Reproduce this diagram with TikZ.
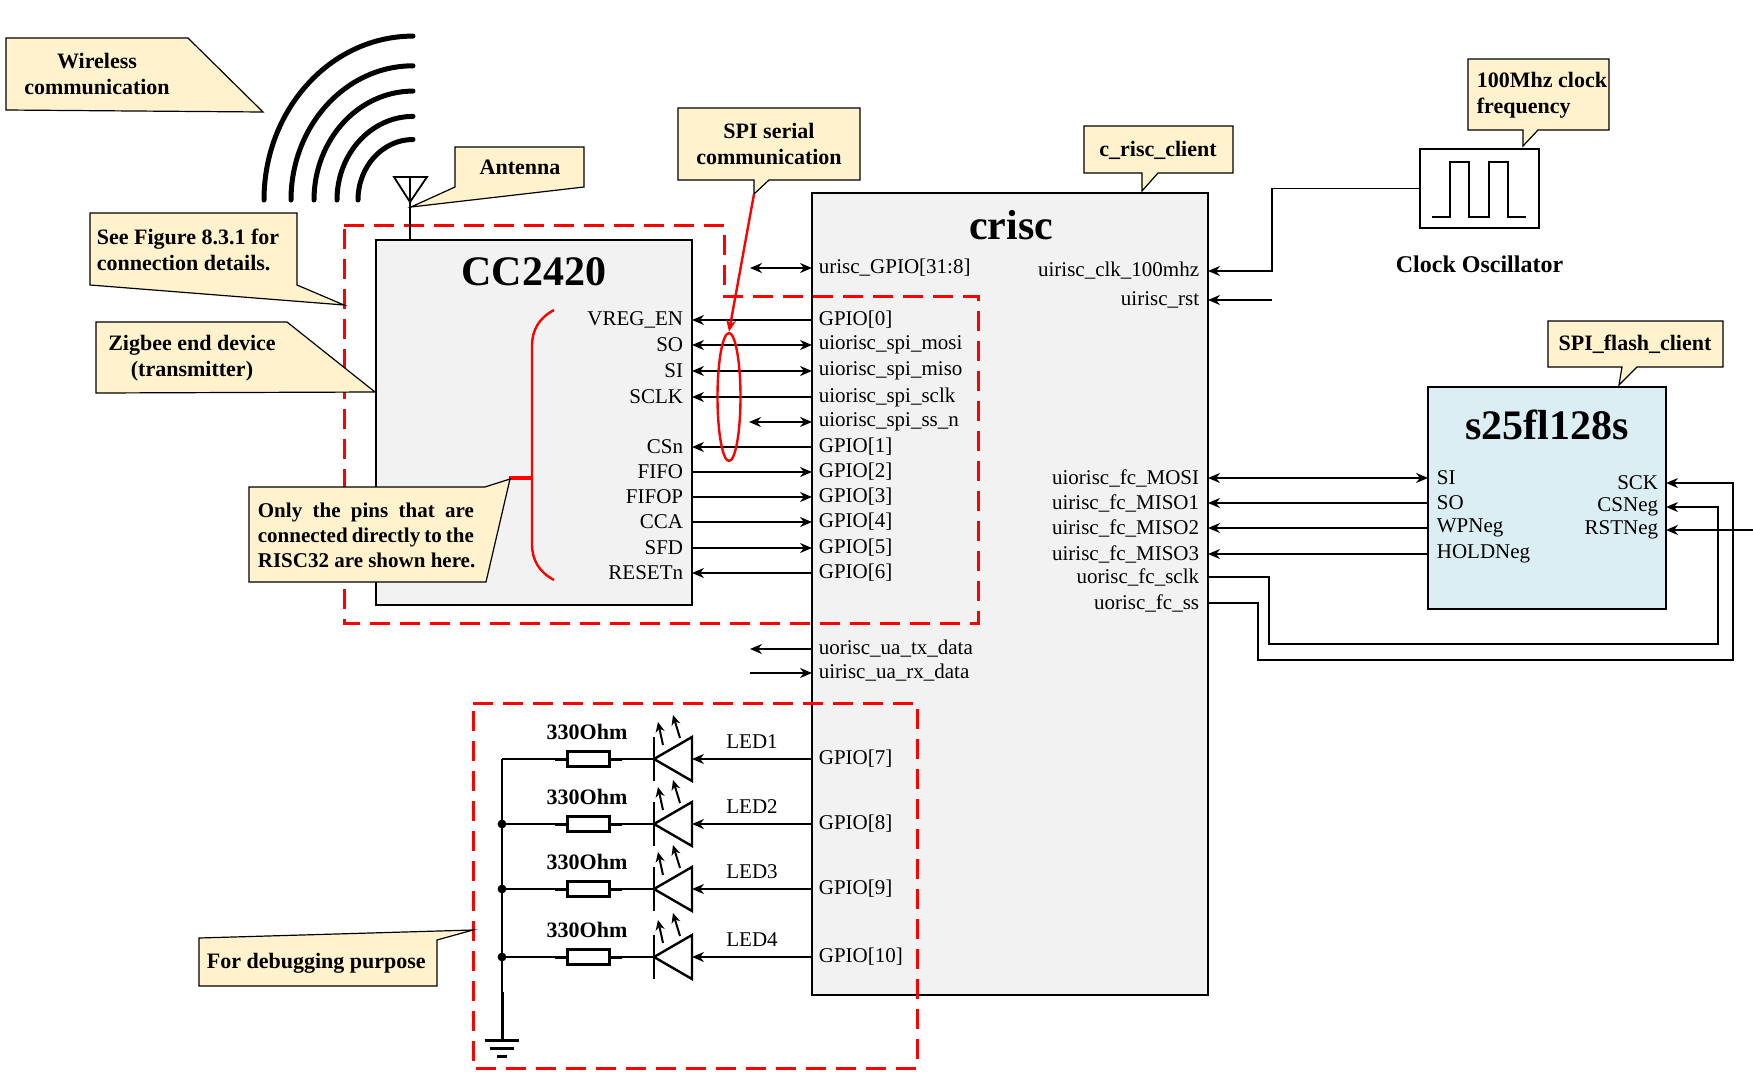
\documentclass[tikz,border=0pt]{standalone}
\usepackage{fontspec}
\setmainfont{Liberation Serif}
\usetikzlibrary{arrows.meta}
\usetikzlibrary{shapes}
\usetikzlibrary{positioning}

\definecolor{chipgray}{RGB}{242,242,242}
\definecolor{noteyellow}{RGB}{255,242,204}
\definecolor{flashblue}{RGB}{218,238,243}

\begin{document}
\begin{tikzpicture}[x=0.5pt,y=-0.5pt,line width=0.9pt,>={Stealth[length=6pt,width=5pt]},
  chip/.style={draw,fill=chipgray,inner sep=0pt,outer sep=0pt},
  chiptitle/.style={font=\fontsize{21}{24}\selectfont\bfseries,inner sep=0pt},
  pinlabel/.style={font=\fontsize{10.5}{12}\selectfont,inner sep=1pt},
  lpin/.style={pinlabel,anchor=west},
  rpin/.style={pinlabel,anchor=east},
  note/.style={draw,fill=noteyellow,line width=0.6pt},
  notetext/.style={font=\fontsize{11}{13}\selectfont\bfseries,align=center,inner sep=0pt},
  redbox/.style={draw=red,line width=1.5pt,dash pattern=on 10pt off 5pt},
  wave/.style={line width=2.5pt,line cap=round},
  resistor/.style={draw,line width=1.5pt,minimum width=21pt,minimum height=7.5pt,inner sep=0pt},
  emit/.style={-{Stealth[length=5pt,width=4.5pt]},line width=1pt}]

		\useasboundingbox (0,0) rectangle (1753,1072);

		\draw[note] (6,38) -- (188,38) -- (263,112) -- (6,110) -- cycle;
		\node[notetext] (wireless) at (97,74) {Wireless\\communication};

		\foreach \r in {149,122,99,76,55}
			\draw[wave] (413,{200-1.1*\r}) arc[start angle=90,end angle=180,x radius=0.5pt*\r,y radius=0.55pt*\r];

		\node[chip,minimum width=158pt,minimum height=182.5pt] (cc) at (534,422.5) {};
		\node[chip,minimum width=198pt,minimum height=401pt] (crisc) at (1010,594) {};
		\node[chip,fill=flashblue,minimum width=119pt,minimum height=111pt] (flash) at (1547,498) {};
		\node[draw,fill=white,minimum width=59.5pt,minimum height=39.5pt,inner sep=0pt] (osc) at (1479.5,188.5) {};
		\node[notetext,font=\fontsize{12}{14}\selectfont\bfseries,below=13pt of osc] (oscname) {Clock Oscillator};

		\node[chiptitle] (cctitle) at (534,272) {CC2420};
		\node[chiptitle] (crisctitle) at (1011,225) {crisc};
		\node[chiptitle] (flashtitle) at (1547,425) {s25fl128s};

		\draw[redbox] (344,225) -- (724,225) -- (724,296) -- (978,296) -- (978,623) -- (344,623) -- cycle;
		\draw[redbox] (473,703) -- (917,703) -- (917,1068) -- (473,1068) -- cycle;

		\coordinate (ant) at (410,177);
		\draw (394,177) -- (427,177) -- (410,202) -- cycle;
		\draw (ant) -- (ant |- cc.north);
		\draw[note] (455,147) -- (584,147) -- (584,187) -- (411,207) -- (455,187) -- cycle;
		\node[notetext] (antnote) at (520,167) {Antenna};

		\draw[note] (90,213) -- (297,213) -- (297,285) -- (344,305) -- (90,285) -- cycle;
		\node[notetext,align=left,anchor=west] (seefig) at (96,250) {See Figure 8.3.1 for\\connection details.};

		\draw[note] (96,322) -- (287,322) -- (375,392) -- (96,393) -- cycle;
		\node[notetext] (zigbee) at (192,358) {Zigbee end device\\(transmitter)};

		\draw[note] (678,108) -- (860,108) -- (860,180) -- (769,180) -- (754,194) -- (754,180) -- (678,180) -- cycle;
		\node[notetext] (spinote) at (769,144) {SPI serial\\communication};

		\draw[note] (1084,126) -- (1233,126) -- (1233,173) -- (1158,173) -- (1142,191) -- (1142,173) -- (1084,173) -- cycle;
		\node[notetext] (crisccl) at (1158,150) {c\_risc\_client};

		\draw[note] (1468,59) -- (1609,59) -- (1609,130) -- (1538,130) -- (1523,146) -- (1523,130) -- (1468,130) -- cycle;
		\node[notetext,align=left,anchor=west] (clknote) at (1476,95) {100Mhz clock\\frequency};

		\draw[note] (1548,321) -- (1723,321) -- (1723,367) -- (1637,367) -- (1619,385) -- (1622,367) -- (1548,367) -- cycle;
		\node[notetext] (flashcl) at (1635,344) {SPI\_flash\_client};

		\draw[line width=1.2pt] (1432,217) -- (1450,217) -- (1450,162) -- (1469,162) -- (1469,217) -- (1489,217)
			-- (1489,162) -- (1508,162) -- (1508,217) -- (1526,217);

		\node[rpin] (vreg) at (686,320) {VREG\_EN};
		\node[rpin] (so) at (686,345) {SO};
		\node[rpin] (si) at (686,371) {SI};
		\node[rpin] (sclk) at (686,397) {SCLK};
		\node[rpin] (csn) at (686,447) {CSn};
		\node[rpin] (fifo) at (686,472) {FIFO};
		\node[rpin] (fifop) at (686,497) {FIFOP};
		\node[rpin] (cca) at (686,522) {CCA};
		\node[rpin] (sfd) at (686,548) {SFD};
		\node[rpin] (reset) at (686,573) {RESETn};

		\node[lpin] (gphi) at (816,268) {urisc\_GPIO[31:8]};
		\node[lpin] (g0) at (816,320) {GPIO[0]};
		\node[lpin] (mosi) at (816,345) {uiorisc\_spi\_mosi};
		\node[lpin] (miso) at (816,371) {uiorisc\_spi\_miso};
		\node[lpin] (spisclk) at (816,397) {uiorisc\_spi\_sclk};
		\node[lpin] (ssn) at (816,422) {uiorisc\_spi\_ss\_n};
		\node[lpin] (g1) at (816,447) {GPIO[1]};
		\node[lpin] (g2) at (816,472) {GPIO[2]};
		\node[lpin] (g3) at (816,497) {GPIO[3]};
		\node[lpin] (g4) at (816,522) {GPIO[4]};
		\node[lpin] (g5) at (816,548) {GPIO[5]};
		\node[lpin] (g6) at (816,573) {GPIO[6]};
		\node[lpin] (tx) at (816,649) {uorisc\_ua\_tx\_data};
		\node[lpin] (rx) at (816,673) {uirisc\_ua\_rx\_data};

		\node[rpin] (clk) at (1202,271) {uirisc\_clk\_100mhz};
		\node[rpin] (rst) at (1202,300) {uirisc\_rst};
		\node[rpin] (fcmosi) at (1202,478) {uiorisc\_fc\_MOSI};
		\node[rpin] (fcmiso1) at (1202,503) {uirisc\_fc\_MISO1};
		\node[rpin] (fcmiso2) at (1202,528) {uirisc\_fc\_MISO2};
		\node[rpin] (fcmiso3) at (1202,554) {uirisc\_fc\_MISO3};
		\node[rpin] (fcsclk) at (1202,577) {uorisc\_fc\_sclk};
		\node[rpin] (fcss) at (1202,603) {uorisc\_fc\_ss};

		\node[lpin] (fsi) at (1434,478) {SI};
		\node[lpin] (fso) at (1434,503) {SO};
		\node[lpin] (fwp) at (1434,528) {WPNeg};
		\node[lpin] (fhold) at (1434,554) {HOLDNeg};
		\node[rpin] (fsck) at (1661,483) {SCK};
		\node[rpin] (fcs) at (1661,507) {CSNeg};
		\node[rpin] (frst) at (1661,530) {RSTNeg};

		\draw[<-] (cc.east |- vreg) -- (crisc.west |- g0);
		\draw[<->] (cc.east |- so) -- (crisc.west |- mosi);
		\draw[<->] (cc.east |- si) -- (crisc.west |- miso);
		\draw[<-] (cc.east |- sclk) -- (crisc.west |- spisclk);
		\draw[<-] (cc.east |- csn) -- (crisc.west |- g1);
		\draw[->] (cc.east |- fifo) -- (crisc.west |- g2);
		\draw[->] (cc.east |- fifop) -- (crisc.west |- g3);
		\draw[->] (cc.east |- cca) -- (crisc.west |- g4);
		\draw[->] (cc.east |- sfd) -- (crisc.west |- g5);
		\draw[<-] (cc.east |- reset) -- (crisc.west |- g6);

		\coordinate (gpfree) at (750,268);
		\coordinate (ssfree) at (749,422);
		\coordinate (txfree) at (750,649);
		\coordinate (rxfree) at (750,673);
		\draw[<->] (gpfree) -- (crisc.west |- gphi);
		\draw[<->] (ssfree) -- (crisc.west |- ssn);
		\draw[->] (crisc.west |- tx) -- (txfree);
		\draw[->] (rxfree) -- (crisc.west |- rx);

		\draw[->] (osc.west) -| (1272,271) -- (crisc.east |- clk);
		\coordinate (rstfree) at (1272,300);
		\draw[->] (rstfree) -- (crisc.east |- rst);

		\draw[<->] (crisc.east |- fcmosi) -- (flash.west |- fsi);
		\draw[<-] (crisc.east |- fcmiso1) -- (flash.west |- fso);
		\draw[<-] (crisc.east |- fcmiso2) -- (flash.west |- fwp);
		\draw[<-] (crisc.east |- fcmiso3) -- (flash.west |- fhold);
		\draw[->] (crisc.east |- fcsclk) -| (1269,644) -| (1718,507) -- (flash.east |- fcs);
		\draw[->] (crisc.east |- fcss) -| (1258,660) -| (1733,483) -- (flash.east |- fsck);
		\coordinate (flashrst) at (1753,530);
		\draw[->] (flashrst) -- (flash.east |- frst);

		\draw[red,line width=1.2pt] (554,310) .. controls (539,318) and (532,330) .. (532,346) -- (532,544)
			.. controls (532,560) and (539,572) .. (554,580);
		\draw[red,line width=1.8pt] (509,478) -- (532,478);
		\draw[note] (249,487) -- (485,487) -- (510,479) -- (486,582) -- (249,582) -- cycle;
		\node[notetext,font=\fontsize{10.5}{12.5}\selectfont\bfseries,align=left,anchor=west] (onlypins) at (257,535)
			{\makebox[108pt][s]{Only the pins that are}\\\makebox[108pt][s]{connected directly to the}\\RISC32 are shown here.};

		\node[draw=red,ellipse,line width=1.2pt,minimum width=11.5pt,minimum height=64pt,inner sep=0pt] (spiring) at (729,397) {};
		\coordinate (spitip) at (754,194);
		\draw[red,line width=1.2pt,->] (spitip) -- (spiring.north);

		\foreach \yy/\gp/\nr in {759/7/1,824/8/2,889/9/3,957/10/4}{
			\node[lpin] (g\gp) at (816,\yy) {GPIO[\gp]};
			\node[pinlabel] (led\nr) at (752,\yy-17) {LED\nr};
			\node[pinlabel,font=\fontsize{11}{13}\selectfont\bfseries] (ohm\nr) at (587,\yy-27) {330Ohm};
			\node[resistor] (r\nr) at (588,\yy) {};
			\coordinate (d\nr) at (692,\yy);
			\draw[line width=1.2pt] (654,\yy) -- (692,\yy-22) -- (692,\yy+22) -- cycle;
			\draw[line width=1.2pt] (654,\yy-22) -- (654,\yy+22);
			\draw[->] (crisc.west |- g\gp) -- (d\nr);
			\draw (502,\yy) -- (r\nr.west);
			\draw (r\nr.east) -- (654,\yy);
			\draw[line width=1.5pt] (r\nr.west) -- ++(-11,0) (r\nr.east) -- ++(11,0);
			\draw[emit] (663,\yy-14) -- (658,\yy-37);
			\draw[emit] (680,\yy-21) -- (673,\yy-44);
		}
		\draw (502,759) -- (502,992);
		\draw[line width=1.5pt] (502,992) -- (502,1040);
		\foreach \yy in {824,889,957}
			\fill (502,\yy) circle[radius=2.2pt];
		\draw[line width=1.5pt] (485,1040) -- (519,1040) (490,1048) -- (514,1048) (497,1056) -- (507,1056);

		\draw[note] (199,938) -- (473,930) -- (437,940) -- (437,986) -- (199,986) -- cycle;
		\node[notetext,align=left,anchor=west] (debug) at (206,963) {For debugging purpose};

\end{tikzpicture}
\end{document}
